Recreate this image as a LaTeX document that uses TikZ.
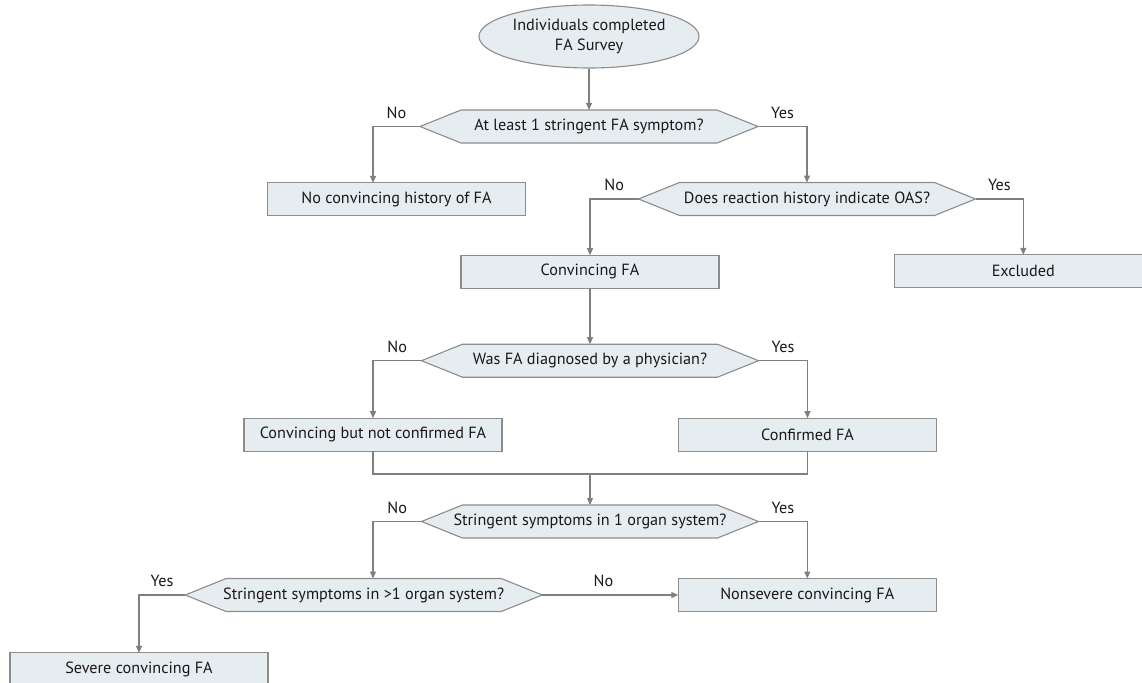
\documentclass[tikz,border=0pt]{standalone}
\usepackage{fontspec}
\setmainfont{PT Sans}
\usepackage{xcolor}
\definecolor{boxfill}{HTML}{E6EDF1}
\definecolor{boxline}{HTML}{8C8C8C}
\definecolor{arrowgray}{HTML}{7F7F7F}
\definecolor{textdark}{HTML}{1A1718}
\usepackage{tikz}
\usetikzlibrary{arrows.meta, positioning, shapes.geometric, backgrounds}

\begin{document}
\begin{tikzpicture}[x=1pt, y=-1pt,
    every node/.style={font=\fontsize{16.2}{19.5}\selectfont, text=textdark},
    box/.style={draw=boxline, line width=1.1pt, fill=boxfill, minimum width=258pt, minimum height=33pt, inner sep=0pt, outer sep=0pt},
    query/.style={minimum height=33pt, inner sep=0pt, outer sep=0pt},
    conn/.style={draw=arrowgray, line width=1.1pt},
    arr/.style={conn, -{Triangle[length=7pt, width=6pt]}},
    lbl/.style={inner sep=0pt, above=7.5pt}]
    \useasboundingbox (0,0) rectangle (1142,682);

    % Start
    \node[ellipse, draw=boxline, line width=1.1pt, fill=boxfill, minimum width=220pt, minimum height=63pt, inner sep=0pt, align=center] (start) at (589,36.5) {Individuals completed\\FA Survey};

    % Questions
    \node[query, minimum width=338pt] (q1) at (589,126.5) {At least 1 stringent FA symptom?};
    \node[query, minimum width=337pt] (q2) at (807,199) {Does reaction history indicate OAS?};
    \node[query, minimum width=337pt] (q3) at (590,360.7) {Was FA diagnosed by a physician?};
    \node[query, minimum width=337pt] (q4) at (590,521.5) {Stringent symptoms in 1 organ system?};
    \node[query, minimum width=357pt] (q5) at (363.7,595) {Stringent symptoms in >1 organ system?};

    % Outcomes
    \node[box] (nohist) at (396.5,199.4) {No convincing history of FA};
    \node[box] (cfa) at (590,271.7) {Convincing FA};
    \node[box] (excl) at (1023.3,271.3) {Excluded};
    \node[box] (cbnc) at (373,434.7) {Convincing but not confirmed FA};
    \node[box] (conf) at (807.5,434.7) {Confirmed FA};
    \node[box] (nonsev) at (807.3,595) {Nonsevere convincing FA};
    \node[box] (severe) at (139,669.4) {Severe convincing FA};

    % Hexagons behind the questions
    \begin{scope}[on background layer]
        \foreach \q in {q1,q2,q3,q4,q5} {
            \draw[draw=boxline, line width=1.1pt, fill=boxfill] (\q.west) -- ([xshift=41pt]\q.north west) -- ([xshift=-41pt]\q.north east) -- (\q.east) -- ([xshift=-41pt]\q.south east) -- ([xshift=41pt]\q.south west) -- cycle;
        }
    \end{scope}

    % Connectors
    \draw[arr] (start.south) -- (q1.north);
    \draw[arr] (q1.west) -| node[lbl, pos=0.25] {No} (nohist.north -| cbnc.north);
    \draw[arr] (q1.east) -| node[lbl, pos=0.25] {Yes} (q2.north);
    \draw[arr] (q2.west) -| node[lbl, pos=0.25] {No} (cfa.north);
    \draw[arr] (q2.east) -| node[lbl, pos=0.25] {Yes} (excl.north);
    \draw[arr] (cfa.south) -- (q3.north);
    \draw[arr] (q3.west) -| node[lbl, pos=0.25] {No} (cbnc.north);
    \draw[arr] (q3.east) -| node[lbl, pos=0.25] {Yes} (conf.north);
    \coordinate (merge) at (590,474);
    \draw[conn] (cbnc.south) |- (merge) -| (conf.south);
    \draw[arr] (merge) -- (q4.north);
    \draw[arr] (q4.west) -| node[lbl, pos=0.25] {No} (q5.north -| cbnc.north);
    \draw[arr] (q4.east) -| node[lbl, pos=0.25] {Yes} (nonsev.north);
    \draw[arr] (q5.west) -| node[lbl, pos=0.25] {Yes} (severe.north);
    \draw[arr] (q5.east) -- node[lbl, pos=0.45] {No} (nonsev.west);
\end{tikzpicture}
\end{document}
